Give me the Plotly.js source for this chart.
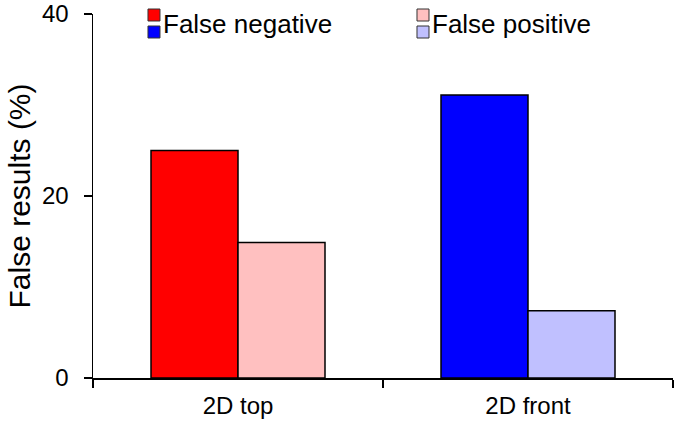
<!DOCTYPE html>
<html>
<head>
<meta charset="utf-8">
<script src="https://cdn.plot.ly/plotly-3.0.1.min.js"></script>
<style>html,body{margin:0;padding:0;background:#fff;}#chart{width:675px;height:426px;}</style>
</head>
<body>
<div id="chart"></div>
<script>
const categories = ["2D top", "2D front"];
const falseNegative = [25.0, 31.1];
const falsePositive = [14.9, 7.4];
const negColors = ["#FF0000", "#0000FF"];
const posColors = ["#FFC0C0", "#C0C0FF"];
const legendLabels = ["False negative", "False positive"];
const legendColors = [["#FF0000", "#0000FF"], ["#FFC0C0", "#C0C0FF"]];
const legendX = [0.0948, 0.5586];

const lineStyle = {color: "#000", width: 1.5};
const traces = [
  {type: "bar", name: legendLabels[0], x: categories, y: falseNegative,
   marker: {color: negColors, line: lineStyle}, showlegend: false},
  {type: "bar", name: legendLabels[1], x: categories, y: falsePositive,
   marker: {color: posColors, line: lineStyle}, showlegend: false}
];

const plotH = 364;
const shapes = [];
const annotations = [];
const sqW = 12 / 580, sqH = 12 / plotH;
legendLabels.forEach((lab, i) => {
  const x0 = legendX[i];
  legendColors[i].forEach((c, j) => {
    const yTop = (378 - 9) / plotH - j * (17 / plotH);
    shapes.push({type: "rect", xref: "paper", yref: "paper",
      x0: x0, x1: x0 + sqW, y0: yTop - sqH, y1: yTop,
      fillcolor: c, line: {color: "#333", width: 1}});
  });
  annotations.push({xref: "paper", yref: "paper", x: x0 + sqW + 0.001, y: (378 - 24) / plotH,
    xanchor: "left", yanchor: "middle", text: lab, showarrow: false,
    font: {family: "Liberation Sans, Arial, sans-serif", size: 26, color: "#000"}});
});

const layout = {
  width: 675, height: 426,
  margin: {l: 93, r: 2, t: 14, b: 48},
  paper_bgcolor: "#fff", plot_bgcolor: "#fff",
  barmode: "group", bargap: 0.4, bargroupgap: 0,
  font: {family: "Liberation Sans, Arial, sans-serif", color: "#000"},
  xaxis: {type: "category", showline: true, linecolor: "#000", linewidth: 1.5,
    ticks: "outside", tickson: "boundaries", ticklen: 8, tickcolor: "#000", tickwidth: 1.5,
    tickfont: {size: 24}, ticklabelstandoff: 6, showgrid: false, zeroline: false},
  yaxis: {range: [0, 40], tickvals: [0, 20, 40], showline: true, linecolor: "#000", linewidth: 1.5,
    ticks: "outside", ticklen: 8, tickcolor: "#000", tickwidth: 1.5,
    tickfont: {size: 24}, ticklabelstandoff: 10, ticklabeloverflow: "allow",
    showgrid: false, zeroline: false,
    title: {text: "False results (%)", font: {size: 30}, standoff: 2}},
  shapes: shapes,
  annotations: annotations
};

Plotly.newPlot("chart", traces, layout, {displayModeBar: false, staticPlot: true});
</script>
</body>
</html>
